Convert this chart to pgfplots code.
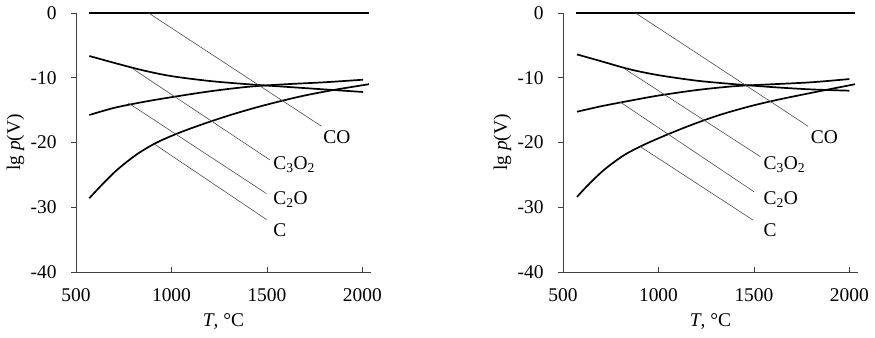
\documentclass[border=0pt]{standalone}
\usepackage{fontspec}
\setmainfont{Liberation Serif}
\usepackage{pgfplots}
\pgfplotsset{compat=1.18}
\tikzset{lab/.style={anchor=west, font=\fontsize{19.5}{22}\selectfont, inner sep=0pt}}
\pgfplotsset{
  panel/.style={
    scale only axis, width=295bp, height=259bp,
    xmin=500, xmax=2045, ymin=-40, ymax=0,
    axis lines*=left,
    axis line style={black!75, line width=0.8bp},
    xtick={500,1000,1500,2000}, xticklabels={500,1000,1500,2000},
    ytick={-40,-30,-20,-10,0}, yticklabels={-40,-30,-20,-10,0},
    x tick style={black!75, line width=0.6bp},
    y tick style={black!75, line width=0.6bp},
    xtick align=inside, ytick align=outside,
    major tick length=5bp,
    tick label style={font=\fontsize{19.5}{22}\selectfont},
    xticklabel style={yshift=-13bp},
    yticklabel style={xshift=-11bp},
    label style={font=\fontsize{19.5}{22}\selectfont},
    xlabel={\textit{T}, °C}, ylabel={lg \textit{p}(V)},
    xlabel style={at={(axis description cs:0.5,-0.19)}, anchor=center},
    ylabel style={at={(axis description cs:-0.205,0.5)}, anchor=center},
    clip=false,
  },
  curve/.style={black, line width=1.7bp, smooth, no marks},
  lead/.style={black!70, line width=0.6bp, no marks},
}
\begin{document}
\begin{tikzpicture}[x=1bp,y=1bp]
\useasboundingbox (0,0) rectangle (875,337);
\begin{axis}[panel, at={(76bp,65bp)}, anchor=south west]
\addplot[curve] coordinates {(570,0) (2034,0)};
\addplot[curve] coordinates {(570,-6.64) (700,-7.7) (850,-8.85) (1000,-9.75) (1200,-10.5) (1400,-11.0) (1600,-11.4) (1800,-11.8) (2004,-12.2)};
\addplot[curve] coordinates {(570,-15.75) (700,-14.65) (850,-13.75) (1000,-13.0) (1200,-12.1) (1400,-11.4) (1600,-11.0) (1800,-10.7) (2004,-10.3)};
\addplot[curve] coordinates {(570,-28.6) (640,-26.4) (720,-24.1) (820,-21.8) (920,-20.05) (1040,-18.5) (1180,-17.0) (1320,-15.65) (1480,-14.3) (1673,-12.9) (1847,-11.9) (2034,-11.0)};
\addplot[lead] coordinates {(880,0) (1786,-17.5)};
\addplot[lead] coordinates {(792,-8.5) (1516,-22.7)};
\addplot[lead] coordinates {(774,-13.9) (1498,-27.9)};
\addplot[lead] coordinates {(913,-20.3) (1498,-31.9)};
\node[lab] at (axis cs:1795,-19.1) {CO};
\node[lab] at (axis cs:1533,-23.4) {C\textsubscript{3}O\textsubscript{2}};
\node[lab] at (axis cs:1533,-28.8) {C\textsubscript{2}O};
\node[lab] at (axis cs:1533,-33.5) {C};
\end{axis}
\begin{axis}[panel, at={(563bp,65bp)}, anchor=south west]
\addplot[black, line width=1.1bp, no marks] coordinates {(570,0) (2029,0)};
\addplot[curve] coordinates {(573,-6.4) (700,-7.45) (850,-8.7) (1000,-9.6) (1200,-10.45) (1400,-11.0) (1600,-11.45) (1800,-11.8) (2000,-12.0)};
\addplot[curve] coordinates {(573,-15.25) (700,-14.4) (850,-13.55) (1000,-12.75) (1200,-11.9) (1400,-11.3) (1600,-11.0) (1800,-10.7) (2000,-10.2)};
\addplot[curve] coordinates {(573,-28.4) (640,-26.3) (720,-24.1) (820,-21.95) (920,-20.4) (1040,-18.85) (1180,-17.2) (1320,-15.75) (1480,-14.4) (1640,-13.3) (1840,-12.1) (2029,-11.0)};
\addplot[lead] coordinates {(880,0) (1784,-17.5)};
\addplot[lead] coordinates {(822,-8.6) (1534,-22.2)};
\addplot[lead] coordinates {(797,-13.7) (1500,-27.6)};
\addplot[lead] coordinates {(903,-20.6) (1496,-32.0)};
\node[lab] at (axis cs:1797,-19.1) {CO};
\node[lab] at (axis cs:1550,-23.4) {C\textsubscript{3}O\textsubscript{2}};
\node[lab] at (axis cs:1550,-28.8) {C\textsubscript{2}O};
\node[lab] at (axis cs:1550,-33.5) {C};
\end{axis}
\end{tikzpicture}
\end{document}
